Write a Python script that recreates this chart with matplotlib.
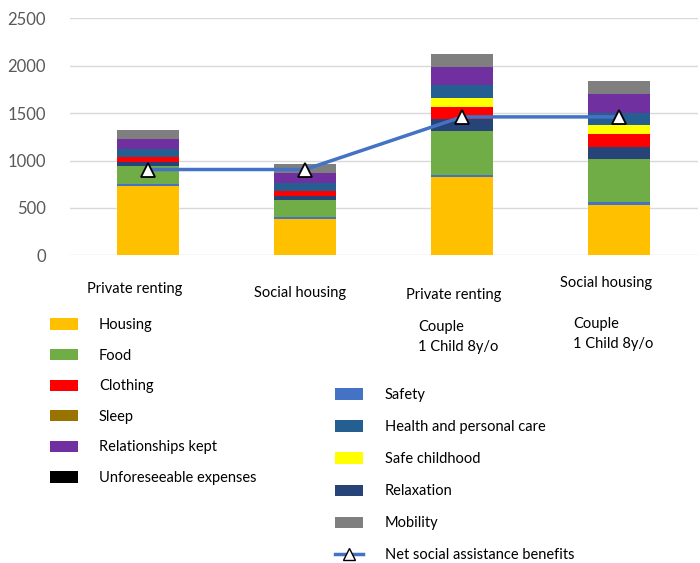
import matplotlib.pyplot as plt
from matplotlib.patches import Patch
from matplotlib.lines import Line2D
import numpy as np

plt.rcParams['font.family'] = ['Lato', 'DejaVu Sans']

categories = ['Private renting', 'Social housing', 'Private renting', 'Social housing']

# stacked from the bottom up
housing = [735, 385, 825, 535]
safety = [15, 15, 25, 30]
food = [195, 183, 461, 454]
unforeseeable = [0, 0, 0, 0]
sleep = [0, 0, 0, 0]
relaxation = [40, 46, 127, 120]
clothing = [53, 53, 130, 138]
safe_childhood = [0, 0, 95, 94]
health = [84, 81, 130, 127]
relationships = [109, 108, 197, 201]
mobility = [88, 89, 134, 137]
net_benefits = [905, 905, 1460, 1460]

series = [
    ('Housing', housing, '#FFC000'),
    ('Safety', safety, '#4472C4'),
    ('Food', food, '#70AD47'),
    ('Unforeseeable expenses', unforeseeable, '#000000'),
    ('Sleep', sleep, '#997300'),
    ('Relaxation', relaxation, '#264478'),
    ('Clothing', clothing, '#FF0000'),
    ('Safe childhood', safe_childhood, '#FFFF00'),
    ('Health and personal care', health, '#255E91'),
    ('Relationships kept', relationships, '#7030A0'),
    ('Mobility', mobility, '#7F7F7F'),
]

fig = plt.figure(figsize=(7, 5.63), dpi=100)
ax = fig.add_axes([69.5 / 700, 1 - 255.3 / 563, 628 / 700, (255.3 - 18.3) / 563])

x = np.arange(len(categories))
bottom = np.zeros(len(categories))
handles = {}
for name, vals, col in series:
    ax.bar(x, vals, bottom=bottom, width=0.4, color=col, zorder=2)
    handles[name] = Patch(facecolor=col)
    bottom += np.array(vals)

ax.plot(x, net_benefits, color='#4472C4', lw=2.5, marker='^', ms=10,
        mfc='white', mec='black', mew=1.3, zorder=3)

ax.set_xlim(-0.5, 3.5)
ax.set_ylim(0, 2500)
ax.set_yticks(range(0, 2501, 500))
ax.yaxis.grid(True, color='#D9D9D9', lw=1, zorder=0)
for s in ax.spines.values():
    s.set_visible(False)
ax.tick_params(axis='y', length=0, pad=17, labelsize=12, labelcolor='#595959')
ax.set_xticks([])

# category labels sit at uneven heights under the bars
lab_dx = [-13, -5, -8, -13]
lab_dy = [-34, -38, -40, -28]
for i, c in enumerate(categories):
    ax.annotate(c, xy=(i, 0), xytext=(lab_dx[i], lab_dy[i]), textcoords='offset pixels',
                ha='center', va='center', fontsize=10.5)

fig.text(418 / 700, 1 - 337 / 563, 'Couple\n1 Child 8y/o', fontsize=10.5,
         va='center', ha='left', linespacing=1.55)
fig.text(573 / 700, 1 - 334 / 563, 'Couple\n1 Child 8y/o', fontsize=10.5,
         va='center', ha='left', linespacing=1.55)

left_names = ['Housing', 'Food', 'Clothing', 'Sleep', 'Relationships kept', 'Unforeseeable expenses']
right_names = ['Safety', 'Health and personal care', 'Safe childhood', 'Relaxation', 'Mobility']

leg1 = fig.legend([handles[n] for n in left_names], left_names,
                  loc='upper left', bbox_to_anchor=(50 / 700, 1 - 318 / 563),
                  frameon=False, borderpad=0, borderaxespad=0, fontsize=10.5,
                  handlelength=1.92, handleheight=0.82, handletextpad=1.44,
                  labelspacing=1.14)
line_h = Line2D([], [], color='#4472C4', lw=2.5, marker='^', ms=9,
                mfc='white', mec='black')
leg2 = fig.legend([handles[n] for n in right_names] + [line_h],
                  right_names + ['Net social assistance benefits'],
                  loc='upper left', bbox_to_anchor=(335 / 700, 1 - 388 / 563),
                  frameon=False, borderpad=0, borderaxespad=0, fontsize=10.5,
                  handlelength=1.92, handleheight=0.82, handletextpad=1.5,
                  labelspacing=1.24)

fig.savefig('out.png', dpi=100)
